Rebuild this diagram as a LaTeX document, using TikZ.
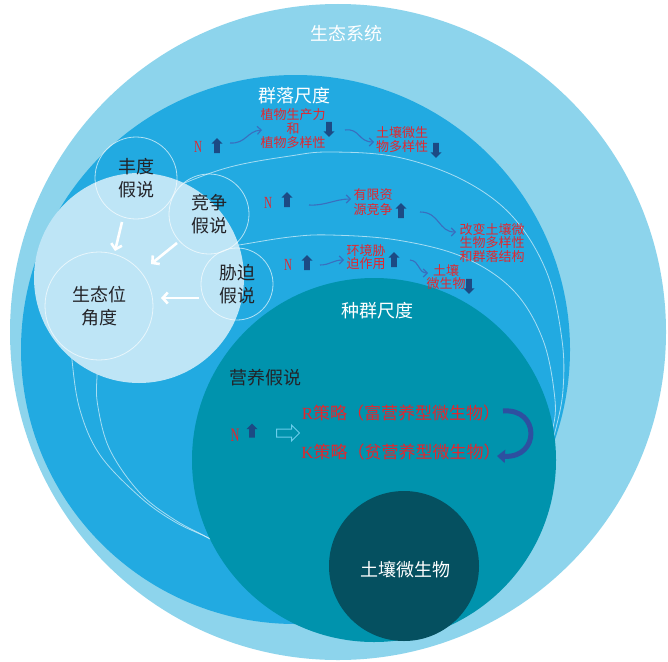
\documentclass[tikz,border=0pt]{standalone}
\usepackage{fontspec}
\setmainfont{Liberation Serif}
\newfontfamily\cjk{Noto Sans CJK SC}
\usetikzlibrary{arrows.meta,shapes.arrows}
\definecolor{ecoBlue}{RGB}{141,212,236}
\definecolor{commBlue}{RGB}{34,170,225}
\definecolor{nicheBlue}{RGB}{190,229,246}
\definecolor{popTeal}{RGB}{0,147,173}
\definecolor{soilDark}{RGB}{5,80,96}
\definecolor{redText}{RGB}{228,38,45}
\definecolor{arrBlue}{RGB}{28,74,132}
\definecolor{curvyBlue}{RGB}{58,110,190}
\definecolor{hollowCyan}{RGB}{105,205,235}
\definecolor{darkText}{RGB}{35,35,40}
\definecolor{bigArr}{RGB}{45,80,160}
\begin{document}
\begin{tikzpicture}[x=1pt,y=-1pt,
  disc/.style={circle,inner sep=0pt,draw=none},
  hypo/.style={circle,inner sep=0pt,draw=white,draw opacity=0.65,line width=0.8pt,
    text=darkText,align=center,font=\cjk\fontsize{18}{23}\selectfont},
  titlew/.style={text=white,font=\cjk\fontsize{18}{22}\selectfont,inner sep=0pt},
  titled/.style={text=darkText,font=\cjk\fontsize{18}{22}\selectfont,inner sep=0pt},
  redsmall/.style={text=redText,align=center,inner sep=0pt,font=\cjk\fontsize{13}{14}\selectfont},
  redbig/.style={text=redText,inner sep=0pt,font=\cjk\fontsize{17}{20}\selectfont},
  nred/.style={text=redText,inner sep=0pt,font=\rmfamily\fontsize{17}{17}\selectfont},
  blockarr/.style={single arrow,fill=arrBlue,draw=none,inner xsep=0pt,inner ysep=2.7pt,
    single arrow head extend=2.6pt,minimum height=15pt},
  uparr/.style={blockarr,rotate=90},
  dnarr/.style={blockarr,rotate=-90},
  hollowarr/.style={single arrow,draw=hollowCyan,line width=1pt,fill=none,inner xsep=0pt,
    inner ysep=3.5pt,single arrow head extend=4pt,minimum height=23pt},
  curvy/.style={draw=curvyBlue,line width=1.1pt,-{Straight Barb[length=4pt,width=8pt]}},
  warrow/.style={draw=white,line width=2.6pt,-{Straight Barb[length=5pt,width=11pt]}},
  thinarc/.style={draw=white,draw opacity=0.6,line width=0.8pt},
  bigcurve/.style={draw=bigArr,line width=5pt,-{Triangle[length=8pt,width=13pt]}}
]
\fill[white] (0,0) rectangle (668,661);
\useasboundingbox (0,0) rectangle (668,661);

% nested scales
\node[disc,fill=ecoBlue,minimum size=656pt] (eco) at (338,332) {};
\node[disc,fill=commBlue,minimum size=549pt] (comm) at (295.5,349.5) {};

% thin white arcs inside the community scale
\draw[thinarc] plot[smooth,tension=0.6] coordinates {(250,565) (212,540) (175,522) (140,497) (100,455) (80,410) (72,360) (70,320) (78,280) (100,235) (135,205) (177,186) (230,167) (290,156) (330,152) (397,157) (463,180) (513,217) (547,273) (562,340) (563,390) (556,428) (548,455)};
\draw[thinarc] plot[smooth,tension=0.6] coordinates {(250,565) (212,540) (175,520) (140,493) (110,450) (98,407) (97,377) (102,335) (120,295) (150,268) (190,253) (239,245) (290,237) (330,235) (397,240) (463,257) (513,290) (543,340) (555,400) (552,432) (544,455)};

% niche perspective
\node[disc,fill=nicheBlue,minimum size=210pt] (niche) at (139,278) {};
\node[hypo,minimum size=108pt] (nicheIn) at (99,306) {生态位\\角度};
\node[hypo,minimum size=82pt] (abund) at (136,178) {丰度\\假说};
\node[hypo,minimum size=80pt] (comp) at (209,214) {竞争\\假说};
\node[hypo,minimum size=72pt] (stressH) at (237,284) {胁迫\\假说};

% population and soil microbes
\node[disc,fill=popTeal,minimum size=364pt] (pop) at (374,460) {};
\node[disc,fill=soilDark,minimum size=150pt] (soil) at (404,566) {};

% titles
\node[titlew] (ecoLab) at (346,34) {生态系统};
\node[titlew] (commLab) at (294,96) {群落尺度};
\node[titlew] (popLab) at (377,311) {种群尺度};
\node[titled] (nutLab) at (265,378) {营养假说};
\node[titlew] (soilLab) at (405,570) {土壤微生物};

% white arrows to niche perspective
\coordinate (w1s) at (122,222); \coordinate (w1e) at (115,251);
\coordinate (w2s) at (177,243); \coordinate (w2e) at (151,264);
\coordinate (w3s) at (199,298); \coordinate (w3e) at (161,298);
\draw[warrow] (w1s) -- (w1e);
\draw[warrow] (w2s) -- (w2e);
\draw[warrow] (w3s) -- (w3e);

% row 1
\node[nred] (n1) at (198,147) {\scalebox{0.65}[1]{N}};
\node[uparr] (u1) at (217,147) {};
\node[redsmall] (plant) at (293,129) {植物生产力\\和\\植物多样性};
\node[dnarr] (d1) at (329,128) {};
\node[redsmall] (soilDiv) at (402,140) {土壤微生\\物多样性};
\node[dnarr] (d2) at (436,149) {};
\coordinate (c1s) at (230,143); \coordinate (c1e) at (262,130);
\coordinate (c2s) at (345,130); \coordinate (c2e) at (374,142);
\draw[curvy] (c1s) .. controls (246,144) and (247,131) .. (c1e);
\draw[curvy] (c2s) .. controls (360,128) and (358,142) .. (c2e);

% row 2
\node[nred] (n2) at (268,203) {\scalebox{0.65}[1]{N}};
\node[uparr] (u2) at (287,201) {};
\node[redsmall,font=\cjk\fontsize{13}{15.5}\selectfont] (limit) at (373,202) {有限资\\源竞争};
\node[uparr] (u3) at (401,212) {};
\node[redsmall,font=\cjk\fontsize{13}{13.5}\selectfont] (change) at (492,243) {改变土壤微\\生物多样性\\和群落结构};
\coordinate (c3s) at (309,205); \coordinate (c3e) at (351,199);
\coordinate (c4s) at (420,212); \coordinate (c4e) at (456,232);
\draw[curvy] (c3s) .. controls (325,206) and (335,199) .. (c3e);
\draw[curvy] (c4s) .. controls (440,212) and (438,232) .. (c4e);

% row 3
\node[nred] (n3) at (288,265) {\scalebox{0.65}[1]{N}};
\node[uparr] (u4) at (307,264) {};
\node[redsmall,font=\cjk\fontsize{13}{13}\selectfont] (stressE) at (366,257) {环境胁\\迫作用};
\node[uparr] (u5) at (394,261) {};
\node[redsmall,font=\cjk\fontsize{13}{13.5}\selectfont] (soilMic) at (446,277) {土壤\\微生物};
\node[dnarr] (d3) at (469,285) {};
\coordinate (c5s) at (320,265); \coordinate (c5e) at (344,260);
\coordinate (c6s) at (410,260); \coordinate (c6e) at (428,273);
\draw[curvy] (c5s) .. controls (330,265) and (333,260) .. (c5e);
\draw[curvy] (c6s) .. controls (420,261) and (418,273) .. (c6e);

% row 4: nutrient hypothesis
\node[nred,font=\rmfamily\fontsize{19}{19}\selectfont] (n4) at (235,435) {\scalebox{0.65}[1]{N}};
\node[uparr,minimum height=14pt] (u6) at (252,432) {};
\node[hollowarr] (hol) at (286,433) {};
\node[redbig] (rStrat) at (401,413) {{\rmfamily R}策略（富营养型微生物）};
\node[redbig] (kStrat) at (401,452) {{\rmfamily K}策略（贫营养型微生物）};
\coordinate (b1s) at (503,411); \coordinate (b1e) at (497,456);
\draw[bigcurve] (b1s) .. controls (540,408) and (540,458) .. (b1e);
\end{tikzpicture}
\end{document}
